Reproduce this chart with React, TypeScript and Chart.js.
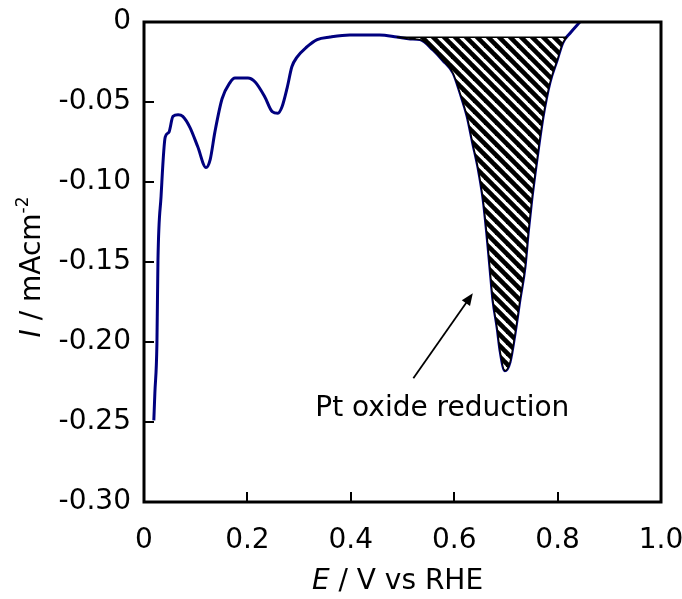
import React, { useEffect, useRef } from 'react';
import { Chart, registerables } from 'chart.js';

Chart.register(...registerables);

// Potential E (V vs RHE) and current I (mA cm^-2)
const potential = [
  0.019, 0.021, 0.025, 0.027, 0.033, 0.041, 0.048, 0.056, 0.066, 0.075,
  0.089, 0.104, 0.120, 0.128, 0.137, 0.151, 0.166, 0.176, 0.201, 0.215,
  0.234, 0.248, 0.259, 0.267, 0.277, 0.286, 0.296, 0.315, 0.335, 0.360,
  0.398, 0.456, 0.489, 0.515, 0.534, 0.559, 0.578, 0.598, 0.611, 0.625,
  0.636, 0.646, 0.656, 0.663, 0.669, 0.675, 0.683, 0.689, 0.698, 0.708,
  0.718, 0.727, 0.737, 0.743, 0.750, 0.760, 0.772, 0.785, 0.799, 0.810,
  0.824, 0.843,
];
const current = [
  -0.249, -0.232, -0.201, -0.149, -0.109, -0.072, -0.069, -0.059, -0.058, -0.059,
  -0.066, -0.078, -0.091, -0.086, -0.069, -0.048, -0.038, -0.035, -0.035, -0.0375,
  -0.047, -0.056, -0.057, -0.053, -0.041, -0.028, -0.022, -0.0156, -0.011, -0.0094,
  -0.0081, -0.0081, -0.0094, -0.0106, -0.011, -0.0175, -0.024, -0.032, -0.044, -0.059,
  -0.076, -0.091, -0.111, -0.132, -0.153, -0.174, -0.191, -0.206, -0.218, -0.2125,
  -0.194, -0.174, -0.153, -0.132, -0.111, -0.086, -0.059, -0.038, -0.024, -0.013,
  -0.007, 0,
];

const xTickValues = [0, 0.2, 0.4, 0.6, 0.8, 1.0];
const xTickLabels = ['0', '0.2', '0.4', '0.6', '0.8', '1.0'];
const yTickValues = [0, -0.05, -0.1, -0.15, -0.2, -0.25, -0.3];
const yTickLabels = ['0', '-0.05', '-0.10', '-0.15', '-0.20', '-0.25', '-0.30'];

// Hatched Pt-oxide reduction region
const hatchBaseline = -0.0095;
const hatchStart = 0.489;
const hatchEnd = 0.818;

// Annotation
const annotationText = 'Pt oxide reduction';
const annotationAt = [0.577, -0.246];
const arrowFrom = [0.521, -0.2226];
const arrowTo = [0.636, -0.1696];

const xTitleItalic = 'E';
const xTitleRest = ' / V vs RHE';
const yTitleItalic = 'I';
const yTitleRest = ' / mAcm';
const yTitleSup = '-2';

const FONT = "'DejaVu Sans'";

function makeHatch(): CanvasPattern | string {
  const s = 11;
  const c = document.createElement('canvas');
  c.width = s;
  c.height = s;
  const g = c.getContext('2d');
  if (!g) return '#888';
  g.fillStyle = '#fff';
  g.fillRect(0, 0, s, s);
  g.strokeStyle = '#000';
  g.lineWidth = 4.6;
  for (const k of [-s, 0, s]) {
    g.beginPath();
    g.moveTo(k - 2, -2);
    g.lineTo(k + s + 2, s + 2);
    g.stroke();
  }
  const p = g.createPattern(c, 'repeat');
  return p || '#888';
}

const decorPlugin = {
  id: 'decor',
  beforeDraw(chart: any) {
    const ctx = chart.ctx;
    ctx.save();
    ctx.fillStyle = '#fff';
    ctx.fillRect(0, 0, chart.width, chart.height);
    ctx.restore();
  },
  afterDatasetsDraw(chart: any) {
    const ctx = chart.ctx;
    const xs = chart.scales.x;
    const ys = chart.scales.y;
    // arrow
    const x1 = xs.getPixelForValue(arrowFrom[0]);
    const y1 = ys.getPixelForValue(arrowFrom[1]);
    const x2 = xs.getPixelForValue(arrowTo[0]);
    const y2 = ys.getPixelForValue(arrowTo[1]);
    const dx = x2 - x1;
    const dy = y2 - y1;
    const len = Math.hypot(dx, dy);
    const ux = dx / len;
    const uy = dy / len;
    const head = 12;
    const half = 5;
    ctx.save();
    ctx.strokeStyle = '#000';
    ctx.fillStyle = '#000';
    ctx.lineWidth = 1.8;
    ctx.beginPath();
    ctx.moveTo(x1, y1);
    ctx.lineTo(x2 - ux * head * 0.8, y2 - uy * head * 0.8);
    ctx.stroke();
    ctx.beginPath();
    ctx.moveTo(x2, y2);
    ctx.lineTo(x2 - ux * head - uy * half, y2 - uy * head + ux * half);
    ctx.lineTo(x2 - ux * head + uy * half, y2 - uy * head - ux * half);
    ctx.closePath();
    ctx.fill();
    // annotation text
    ctx.font = `28px ${FONT}`;
    ctx.textAlign = 'center';
    ctx.textBaseline = 'alphabetic';
    ctx.fillText(
      annotationText,
      xs.getPixelForValue(annotationAt[0]),
      ys.getPixelForValue(annotationAt[1])
    );
    ctx.restore();
  },
  afterDraw(chart: any) {
    const ctx = chart.ctx;
    const a = chart.chartArea;
    const xs = chart.scales.x;
    const ys = chart.scales.y;
    ctx.save();
    // inward ticks
    ctx.strokeStyle = '#000';
    ctx.lineWidth = 2;
    ctx.beginPath();
    for (const t of ys.ticks) {
      const py = Math.round(ys.getPixelForValue(t.value));
      ctx.moveTo(a.left, py);
      ctx.lineTo(a.left + 10, py);
    }
    for (const t of xs.ticks) {
      const px = Math.round(xs.getPixelForValue(t.value));
      ctx.moveTo(px, a.bottom);
      ctx.lineTo(px, a.bottom - 10);
    }
    ctx.stroke();
    // frame
    ctx.lineWidth = 3;
    ctx.strokeRect(a.left, a.top, a.right - a.left, a.bottom - a.top);

    ctx.fillStyle = '#000';
    ctx.textBaseline = 'alphabetic';
    ctx.textAlign = 'left';
    // x title
    ctx.font = `oblique 28px ${FONT}`;
    const wE = ctx.measureText(xTitleItalic).width;
    ctx.font = `28px ${FONT}`;
    const wRest = ctx.measureText(xTitleRest).width;
    const cx = (a.left + a.right) / 2 - 5;
    const sx = cx - (wE + wRest) / 2;
    ctx.font = `oblique 28px ${FONT}`;
    ctx.fillText(xTitleItalic, sx, 589);
    ctx.font = `28px ${FONT}`;
    ctx.fillText(xTitleRest, sx + wE, 589);

    // y title (rotated)
    ctx.translate(40, (a.top + a.bottom) / 2 + 5);
    ctx.rotate(-Math.PI / 2);
    ctx.font = `oblique 28px ${FONT}`;
    const wI = ctx.measureText(yTitleItalic).width;
    ctx.font = `28px ${FONT}`;
    const wR = ctx.measureText(yTitleRest).width;
    ctx.font = `17px ${FONT}`;
    const wS = ctx.measureText(yTitleSup).width;
    const sy = -(wI + wR + wS) / 2;
    ctx.font = `oblique 28px ${FONT}`;
    ctx.fillText(yTitleItalic, sy, 0);
    ctx.font = `28px ${FONT}`;
    ctx.fillText(yTitleRest, sy + wI, 0);
    ctx.font = `17px ${FONT}`;
    ctx.fillText(yTitleSup, sy + wI + wR, -12);
    ctx.restore();
  },
};

export default function App() {
  const ref = useRef<HTMLCanvasElement | null>(null);

  useEffect(() => {
    if (!ref.current) return;
    const curve = potential.map((e, i) => ({ x: e, y: current[i] }));
    const hatchPts = [
      { x: hatchStart, y: hatchBaseline },
      ...curve.filter((p) => p.x > hatchStart && p.x < hatchEnd),
      { x: hatchEnd, y: hatchBaseline },
    ];
    const pattern = makeHatch();

    const chart = new Chart(ref.current, {
      type: 'line',
      data: {
        datasets: [
          {
            data: [
              { x: hatchStart, y: hatchBaseline },
              { x: hatchEnd, y: hatchBaseline },
            ],
            borderColor: '#000',
            borderWidth: 1.6,
            pointRadius: 0,
            fill: false,
            order: 0,
          },
          {
            data: hatchPts,
            borderColor: '#000',
            borderWidth: 1.4,
            backgroundColor: pattern as any,
            pointRadius: 0,
            cubicInterpolationMode: 'monotone',
            fill: { value: hatchBaseline } as any,
            order: 1,
          },
          {
            data: curve,
            borderColor: '#00007f',
            borderWidth: 3,
            pointRadius: 0,
            cubicInterpolationMode: 'monotone',
            fill: false,
            order: 2,
          },
        ],
      },
      options: {
        animation: false,
        responsive: true,
        maintainAspectRatio: false,
        layout: { padding: { left: 0, top: 22, right: 21, bottom: 0 } },
        plugins: {
          legend: { display: false },
          tooltip: { enabled: false },
        },
        scales: {
          x: {
            type: 'linear',
            min: 0,
            max: 1,
            grid: { display: false, drawTicks: false },
            border: { display: false },
            afterBuildTicks: (s: any) => {
              s.ticks = xTickValues.map((v) => ({ value: v }));
            },
            afterFit: (s: any) => {
              s.height = 97;
              s.paddingLeft = 0;
              s.paddingRight = 0;
            },
            ticks: {
              autoSkip: false,
              maxRotation: 0,
              padding: 22,
              color: '#000',
              font: { family: 'DejaVu Sans', size: 28 },
              callback: (v: any) => {
                const i = xTickValues.findIndex((t) => Math.abs(t - Number(v)) < 1e-9);
                return i >= 0 ? xTickLabels[i] : '';
              },
            },
          },
          y: {
            type: 'linear',
            min: -0.3,
            max: 0,
            grid: { display: false, drawTicks: false },
            border: { display: false },
            afterBuildTicks: (s: any) => {
              s.ticks = yTickValues.map((v) => ({ value: v }));
            },
            afterFit: (s: any) => {
              s.width = 144;
              s.paddingTop = 0;
              s.paddingBottom = 0;
            },
            ticks: {
              autoSkip: false,
              padding: 13,
              color: '#000',
              font: { family: 'DejaVu Sans', size: 28 },
              callback: (v: any) => {
                const i = yTickValues.findIndex((t) => Math.abs(t - Number(v)) < 1e-9);
                return i >= 0 ? yTickLabels[i] : '';
              },
            },
          },
        },
      },
      plugins: [decorPlugin],
    });
    return () => chart.destroy();
  }, []);

  return (
    <div style={{ position: 'fixed', left: 0, top: 0, width: 682, height: 599, background: '#fff' }}>
      <canvas ref={ref} />
    </div>
  );
}
